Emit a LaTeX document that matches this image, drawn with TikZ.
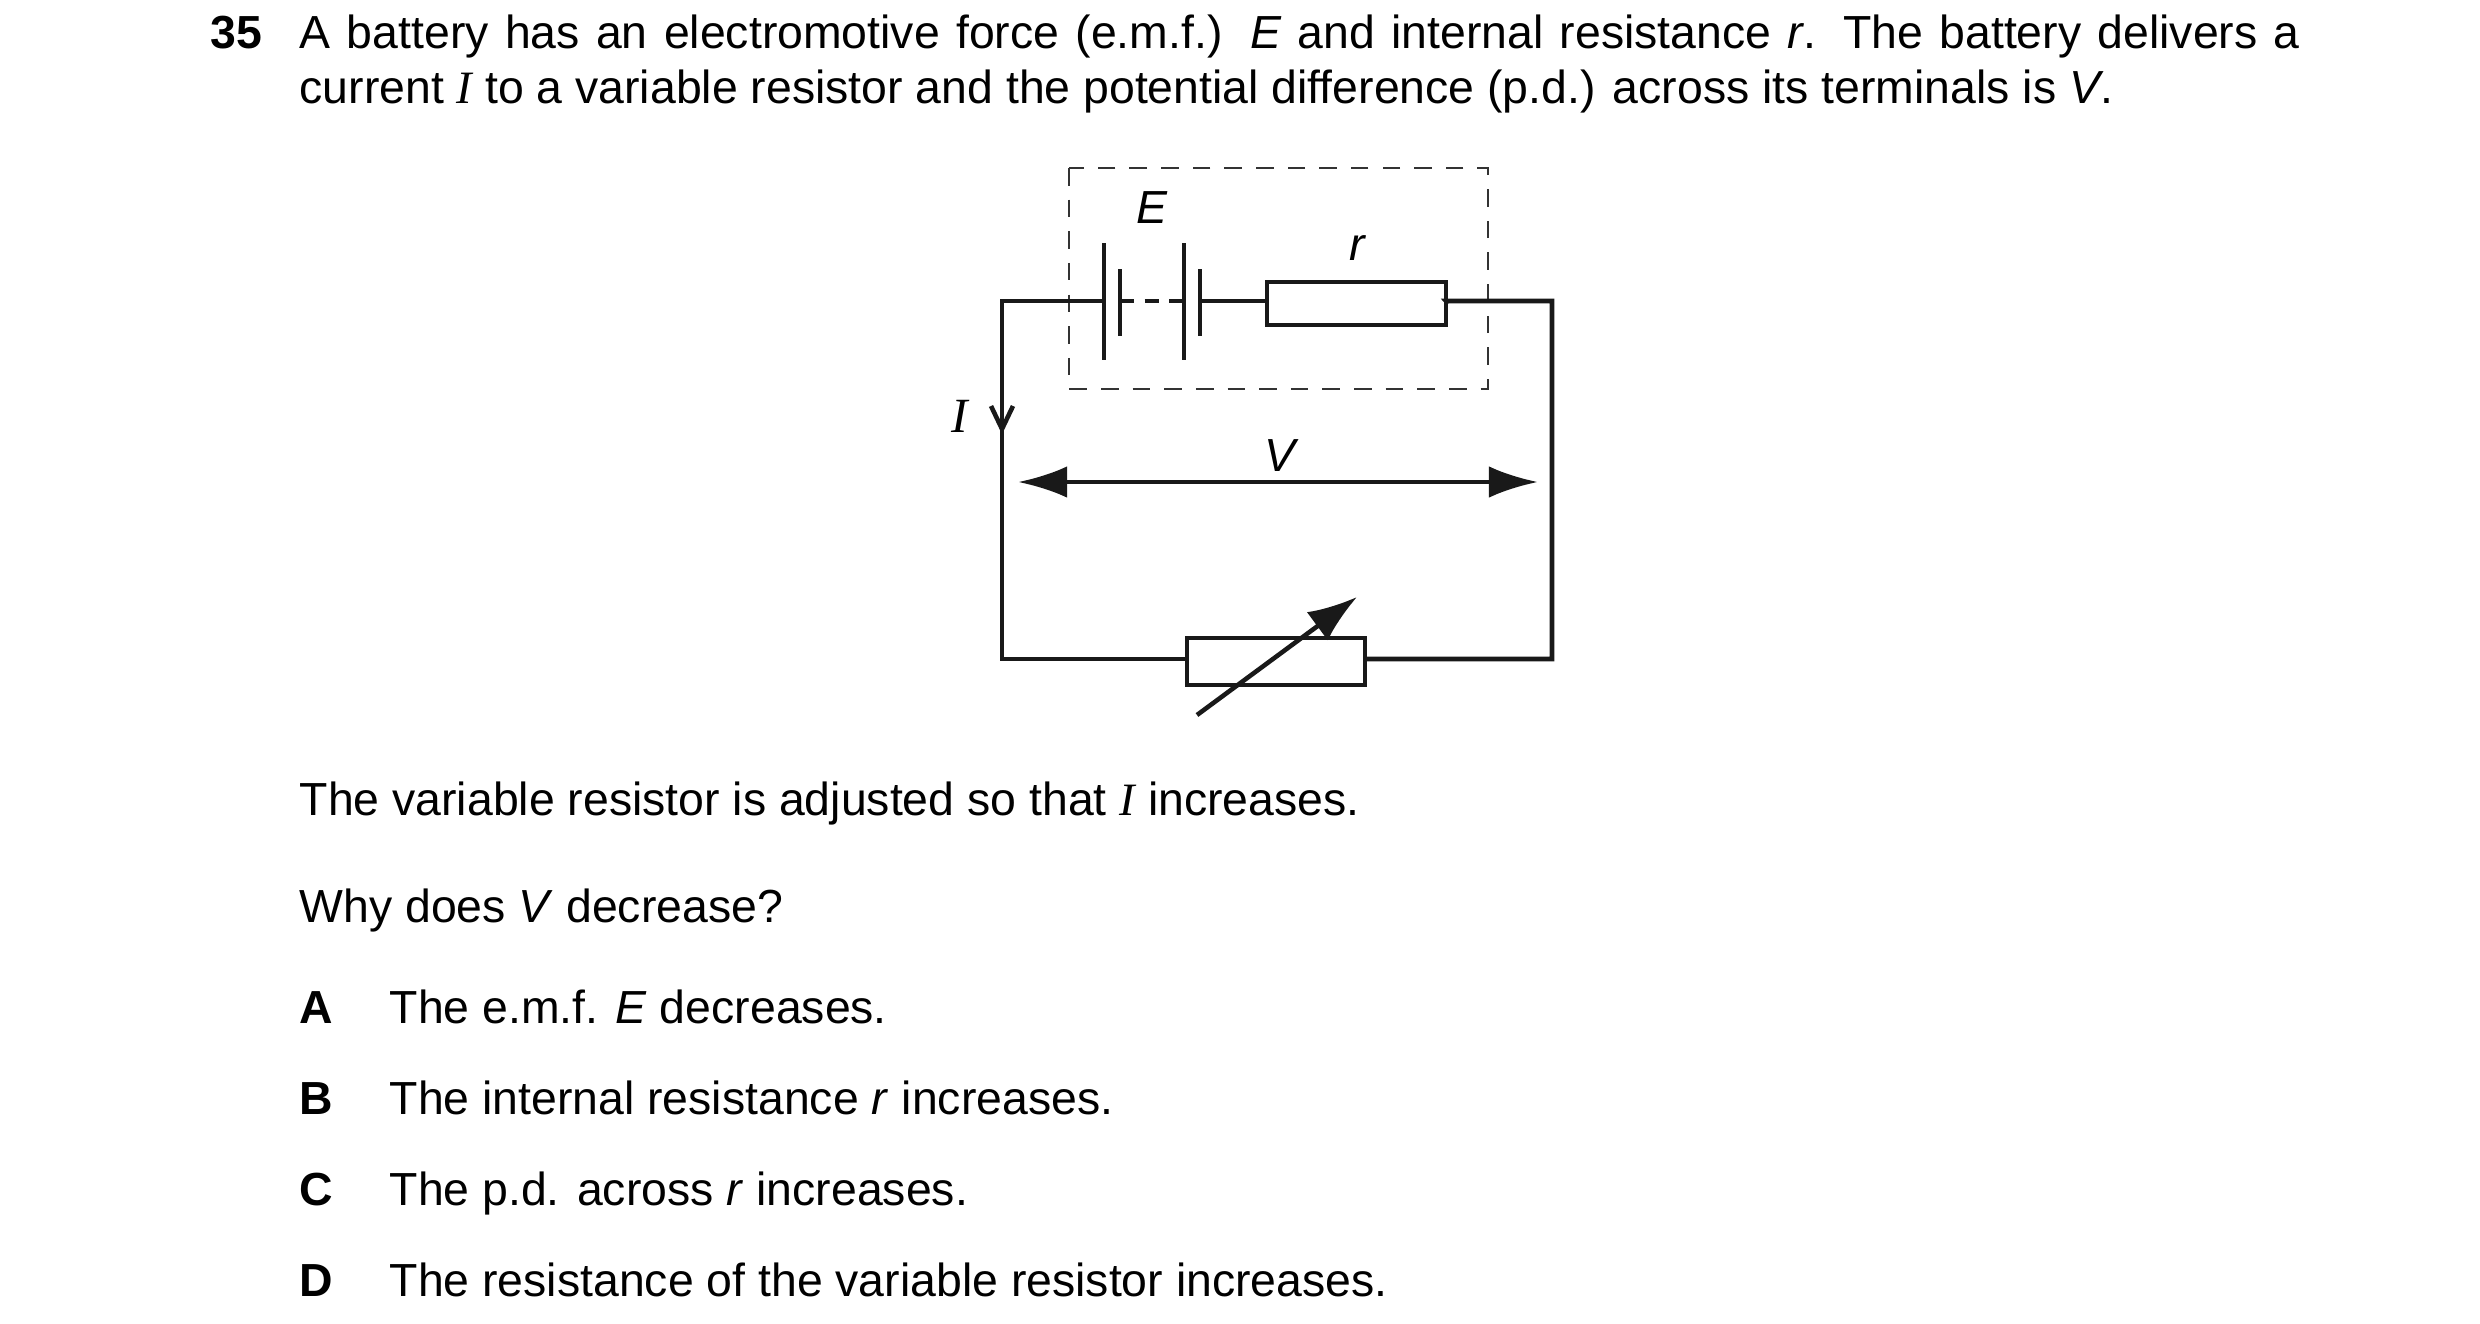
\documentclass[tikz,border=0pt]{standalone}
\usepackage{fontspec}
\setmainfont{Liberation Sans}
\newfontfamily\tms{Liberation Serif}
\usetikzlibrary{arrows.meta}
\begin{document}
\begin{tikzpicture}[x=0.1mm,y=-0.1mm,
  txt/.style={anchor=base west,inner sep=0,font=\fontsize{13.2}{15.9}\selectfont},
  lbl/.style={inner sep=0,font=\fontsize{13.2}{16}\selectfont\itshape},
  w/.style={line width=1.3pt,black!90},
  box/.style={w,fill=white}]
\useasboundingbox (0,0) rectangle (2480,1323);
\node[txt] (num) at (210,48) {\textbf{35}};
\node[txt,text width=200mm,align=justify] (q) at (299,48) {A battery has an electromotive force (e.m.f.) \textit{E} and internal resistance \textit{r}. The battery delivers a current {\tms\itshape I} to a variable resistor and the potential difference (p.d.) across its terminals is \textit{V}.};
% circuit
\coordinate (tl) at (1002,301); \coordinate (tr) at (1552,301);
\coordinate (bl) at (1002,659); \coordinate (br) at (1552,659);
\draw[line width=0.7pt,black!80,dash pattern=on 5pt off 4pt] (1069,168) rectangle (1488,389);
\node[box,draw,minimum width=17.9mm,minimum height=4.3mm,inner sep=0] (r) at (1356.5,303.5) {};
\node[box,draw,minimum width=17.8mm,minimum height=4.7mm,inner sep=0] (vr) at (1276,661.5) {};
\draw[w] (r.east) -- (1446,301) -- (tr) -- (br) -- (1365,659);
\draw[w] (1187,659) -- (bl) -- (tl) -- (1104,301);
\draw[w] (1104,243) -- (1104,360);
\draw[w] (1120,269) -- (1120,336);
\draw[w,dash pattern=on 4pt off 3pt] (1120,301) -- (1184,301);
\draw[w] (1184,243) -- (1184,360);
\draw[w] (1200,269) -- (1200,336);
\draw[w] (1200,301) -- (1267,301);
\draw[w,-{Latex[length=14pt,width=10pt]}] (1197,715) -- (1357,597);
\draw[w,{Latex[length=14pt,width=9pt]}-{Latex[length=14pt,width=9pt]}] (1018,482) -- (1538,482);
\draw[w] (991,406) -- (1002,429) -- (1013,406);
\node[lbl] (E) at (1152,208) {E};
\node[lbl] (rl) at (1357,248) {r};
\node[lbl] (V) at (1280,456) {V};
\node[inner sep=0,font=\fontsize{14}{16}\selectfont\tms\itshape] (I) at (960,416) {I};
% text below
\node[txt] (t1) at (299,815) {The variable resistor is adjusted so that {\tms\itshape I} increases.};
\node[txt] (t2) at (299,922) {Why does \textit{V} decrease?};
\node[txt] (la) at (299,1023) {\textbf{A}}; \node[txt] (a) at (389,1023) {The e.m.f. \textit{E} decreases.};
\node[txt] (lb) at (299,1114) {\textbf{B}}; \node[txt] (b) at (389,1114) {The internal resistance \textit{r} increases.};
\node[txt] (lc) at (299,1205) {\textbf{C}}; \node[txt] (c) at (389,1205) {The p.d. across \textit{r} increases.};
\node[txt] (ld) at (299,1296) {\textbf{D}}; \node[txt] (d) at (389,1296) {The resistance of the variable resistor increases.};
\end{tikzpicture}
\end{document}
